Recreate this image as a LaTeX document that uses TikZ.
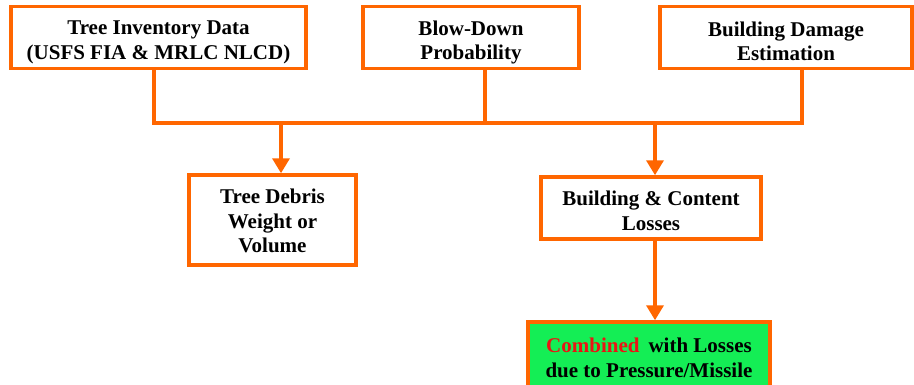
\documentclass[tikz,border=0pt]{standalone}
\usepackage{fontspec}
\setmainfont{Liberation Serif}
\usetikzlibrary{arrows.meta}

\definecolor{flowOrange}{RGB}{255,102,0}
\definecolor{flowGreen}{RGB}{20,238,85}
\definecolor{flowRed}{RGB}{235,20,20}

\tikzset{
  stepbox/.style={draw=flowOrange, line width=3.5pt, fill=white, inner sep=0pt},
  boxtext/.style={align=center, inner sep=0pt,
    font=\bfseries\fontsize{21}{24.5}\selectfont},
  wire/.style={draw=flowOrange, line width=3.5pt},
  feed/.style={wire, -{Triangle[width=17pt,length=15pt]}},
}

\begin{document}
\begin{tikzpicture}[x=1pt, y=-1pt]
  \useasboundingbox (0,0) rectangle (914,384);

  % input boxes along the top
  \node[stepbox, minimum width=295pt, minimum height=62pt] (inv) at (158.5,37.5) {};
  \node[boxtext] (invT) at ([yshift=-5pt]inv.center)
    {Tree Inventory Data\\(USFS FIA \& MRLC NLCD)};
  \node[stepbox, minimum width=216pt, minimum height=62pt] (blow) at (471,37.5) {};
  \node[boxtext] (blowT) at ([yshift=-5pt]blow.center) {Blow-Down\\Probability};
  \node[stepbox, minimum width=252pt, minimum height=62pt] (dmg) at (786,37.5) {};
  \node[boxtext] (dmgT) at ([yshift=-4pt]dmg.center) {Building Damage\\Estimation};

  % results
  \node[stepbox, minimum width=167pt, minimum height=90pt] (debris) at (272.5,220) {};
  \node[boxtext] (debrisT) at ([yshift=-1pt]debris.center) {Tree Debris\\Weight or\\Volume};
  \node[stepbox, minimum width=220pt, minimum height=62pt] (loss) at (651,208) {};
  \node[boxtext] (lossT) at ([yshift=-3pt]loss.center) {Building \& Content\\Losses};
  \node[stepbox, fill=flowGreen, minimum width=242pt, minimum height=66pt] (comb) at (649,355) {};
  \node[boxtext] (combT) at ([yshift=-3pt]comb.center)
    {{\color{flowRed}Combined}\hspace{9pt}with Losses\\due to Pressure/Missile};

  % collecting bus
  \coordinate (busA) at (154,123);
  \coordinate (busB) at (485,123);
  \coordinate (busC) at (802,123);
  \coordinate (tapA) at (281,123);
  \coordinate (tapB) at (655,123);

  \draw[wire] (inv.south -| busA) -- (busA) -- (busC) -- (dmg.south -| busC);
  \draw[wire] (blow.south -| busB) -- (busB);

  \draw[feed] (tapA) -- (debris.north -| tapA);
  \draw[feed] (tapB) -- (loss.north -| tapB);
  \draw[feed] (loss.south -| tapB) -- (comb.north -| tapB);
\end{tikzpicture}
\end{document}
